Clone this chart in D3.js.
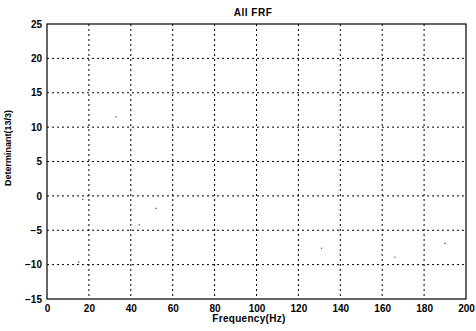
<!DOCTYPE html>
<html lang="en">
<head>
  <meta charset="UTF-8">
  <title>All FRF</title>
  <script src="https://d3js.org/d3.v7.min.js"></script>
  <style>
    body {
      margin: 0;
      background-color: #fff;
    }
    svg text {
      font-family: "Liberation Sans", Arial, sans-serif;
      font-weight: bold;
      fill: #000;
    }
  </style>
</head>
<body>
  <svg id="chart" width="476" height="331"></svg>

  <script>
    // axis ticks
    const xTicks = [0, 20, 40, 60, 80, 100, 120, 140, 160, 180, 200];
    const yTicks = [-15, -10, -5, 0, 5, 10, 15, 20, 25];

    // the few faint points still visible on the scan
    const freqHz = [15, 17, 33, 44, 52, 131, 166, 190];
    const determinant = [-9.6, -0.5, 11.5, -4.2, -1.8, -7.6, -8.9, -6.9];

    const svg = d3.select("#chart");

    const margin = { top: 24, right: 10, bottom: 32, left: 47 };
    const width = 476 - margin.left - margin.right;
    const height = 331 - margin.top - margin.bottom;

    const x = d3.scaleLinear().domain([0, 200]).range([margin.left, margin.left + width]);
    const y = d3.scaleLinear().domain([-15, 25]).range([margin.top + height, margin.top]);

    // dotted grid
    svg.append("g")
      .selectAll("line")
      .data(xTicks.slice(1, -1))
      .enter()
      .append("line")
      .attr("x1", d => x(d)).attr("x2", d => x(d))
      .attr("y1", y(25)).attr("y2", y(-15))
      .attr("stroke", "#000")
      .attr("stroke-width", 1)
      .attr("stroke-dasharray", "2,3");

    svg.append("g")
      .selectAll("line")
      .data(yTicks.slice(1, -1))
      .enter()
      .append("line")
      .attr("x1", x(0)).attr("x2", x(200))
      .attr("y1", d => y(d)).attr("y2", d => y(d))
      .attr("stroke", "#000")
      .attr("stroke-width", 1)
      .attr("stroke-dasharray", "2,3");

    // axes (labels only, ticks hidden)
    const xAxis = svg.append("g")
      .attr("transform", `translate(0,${y(-15)})`)
      .call(d3.axisBottom(x).tickValues(xTicks).tickSize(0).tickPadding(6));
    xAxis.select(".domain").remove();
    xAxis.selectAll("text").style("font-size", "10px");

    const yAxis = svg.append("g")
      .attr("transform", `translate(${x(0)},0)`)
      .call(d3.axisLeft(y).tickValues(yTicks).tickSize(0).tickPadding(5));
    yAxis.select(".domain").remove();
    yAxis.selectAll("text").style("font-size", "10px");

    // frame
    svg.append("rect")
      .attr("x", x(0))
      .attr("y", y(25))
      .attr("width", x(200) - x(0))
      .attr("height", y(-15) - y(25))
      .attr("fill", "none")
      .attr("stroke", "#000")
      .attr("stroke-width", 1.2);

    // faint specks
    svg.append("g")
      .selectAll("rect")
      .data(freqHz)
      .enter()
      .append("rect")
      .attr("x", (d, i) => x(d) - 0.5)
      .attr("y", (d, i) => y(determinant[i]) - 0.5)
      .attr("width", 1.2)
      .attr("height", 1.2)
      .attr("fill", "#444");

    // titles
    svg.append("text")
      .attr("x", 253)
      .attr("y", 16)
      .attr("text-anchor", "middle")
      .style("font-size", "10px")
      .style("letter-spacing", "0.5px")
      .text("All FRF");

    svg.append("text")
      .attr("x", 249)
      .attr("y", 322)
      .attr("text-anchor", "middle")
      .style("font-size", "10px")
      .style("letter-spacing", "0.3px")
      .text("Frequency(Hz)");

    svg.append("text")
      .attr("transform", "translate(11,148) rotate(-90)")
      .attr("text-anchor", "middle")
      .style("font-size", "9px")
      .attr("textLength", 76)
      .text("Determinant(13/3)");
  </script>
</body>
</html>
